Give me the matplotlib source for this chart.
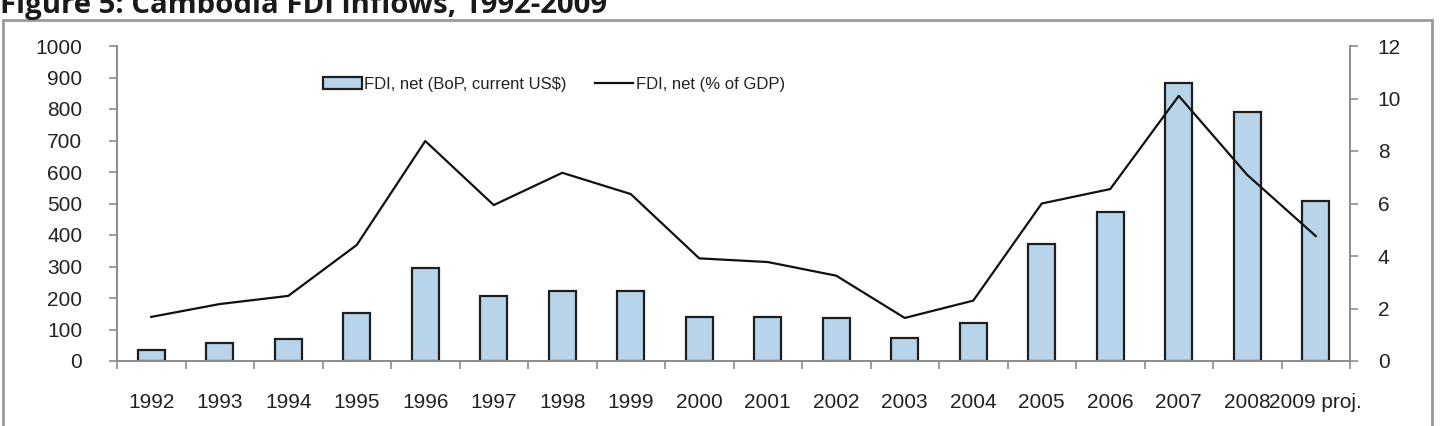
import matplotlib
matplotlib.use("Agg")
import matplotlib.pyplot as plt
from matplotlib.patches import Rectangle
from matplotlib.ticker import MultipleLocator, FixedLocator

# Cambodia FDI inflows
years = ["1992", "1993", "1994", "1995", "1996", "1997", "1998", "1999", "2000",
         "2001", "2002", "2003", "2004", "2005", "2006", "2007", "2008", "2009 proj."]
fdi_usd = [35, 57, 70, 152, 295, 205, 222, 222, 140,
           140, 137, 73, 120, 373, 472, 883, 791, 508]
fdi_gdp = [1.68, 2.17, 2.48, 4.42, 8.38, 5.94, 7.17, 6.36, 3.91,
           3.77, 3.25, 1.64, 2.30, 6.00, 6.55, 10.1, 7.09, 4.76]

plt.rcParams['font.family'] = ['Liberation Sans', 'DejaVu Sans']
TXT = '#222222'
SPINE = '#8c8c8c'

fig = plt.figure(figsize=(14.45, 4.26), dpi=100)
ax = fig.add_axes([117 / 1445, 65 / 426, 1233 / 1445, 315 / 426])
ax2 = ax.twinx()

x = list(range(len(years)))
ax.bar(x, fdi_usd, width=0.4, color='#b7d4ea', edgecolor='#1e1e1e',
       linewidth=1.6, label='FDI, net (BoP, current US$)', zorder=2)
ax2.plot(x, fdi_gdp, color='#111111', linewidth=1.6, label='FDI, net (% of GDP)')

ax.set_xlim(-0.5, len(years) - 0.5)
ax.set_ylim(0, 1000)
ax2.set_ylim(0, 12)
ax.yaxis.set_major_locator(MultipleLocator(100))
ax2.yaxis.set_major_locator(MultipleLocator(2))

ax.set_xticks(x)
ax.set_xticklabels(years)
ax.xaxis.set_minor_locator(FixedLocator([i - 0.5 for i in range(len(years) + 1)]))
ax.tick_params(axis='x', which='major', length=0, pad=23, labelsize=15, labelcolor=TXT)
ax.tick_params(axis='x', which='minor', length=6, width=1.2, color=SPINE, direction='out')
ax.tick_params(axis='y', length=6, width=1.2, color=SPINE, pad=19, labelsize=15, labelcolor=TXT)
ax2.tick_params(axis='y', length=6, width=1.2, color=SPINE, pad=14, labelsize=15, labelcolor=TXT)

for a in (ax, ax2):
    a.spines['top'].set_visible(False)
    for s in ('left', 'right', 'bottom'):
        a.spines[s].set_color(SPINE)
        a.spines[s].set_linewidth(1.4)
ax.spines['right'].set_visible(False)
ax2.spines['left'].set_visible(False)
ax2.spines['bottom'].set_visible(False)

# legend in two columns, no frame
h1, l1 = ax.get_legend_handles_labels()
h2, l2 = ax2.get_legend_handles_labels()
ax2.legend(h1 + h2, l1 + l2, ncol=2, frameon=False, loc='center',
           bbox_to_anchor=(554 / 1445, 1 - 84 / 426), bbox_transform=fig.transFigure,
           fontsize=12, handlelength=2.3, handleheight=0.75, handletextpad=0.15,
           columnspacing=1.7, labelcolor=TXT)

# outer chart frame
fig.patches.append(Rectangle((3 / 1445, -0.05), 1429 / 1445, 0.05 + 406 / 426,
                             transform=fig.transFigure, fill=False,
                             edgecolor='#9a9a9a', linewidth=2.0))

# title, partly cut off by the top of the image
fig.text(0 / 1445, 413 / 426, "Figure 5: Cambodia FDI inflows, 1992-2009",
         fontsize=21.2, fontweight='bold', color='#1a1a1a', va='baseline', ha='left',
         family=['Open Sans', 'DejaVu Sans'])

fig.savefig("out.png", dpi=100)
